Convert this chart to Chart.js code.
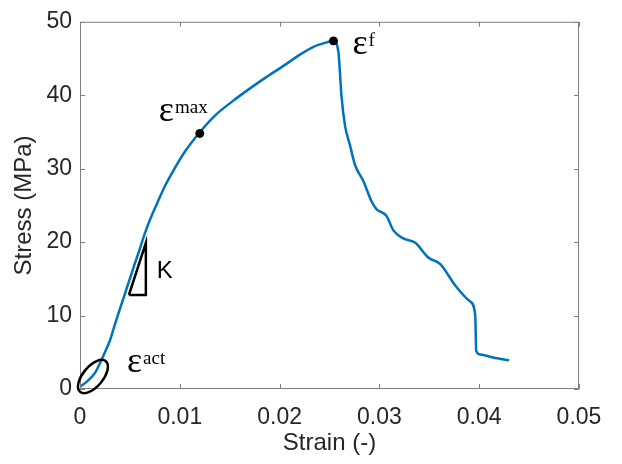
<!DOCTYPE html>
<html>
<head>
<meta charset="utf-8">
<script src="https://cdn.jsdelivr.net/npm/chart.js@4"></script>
<style>
  html, body { margin: 0; padding: 0; background: #fff; }
  #wrap { width: 622px; height: 464px; }
</style>
</head>
<body>
<div id="wrap"><canvas id="mainChart" width="622" height="464"></canvas></div>
<script>
// stress-strain curve
const strain = [0, 0.0005, 0.001, 0.0015, 0.002, 0.0025, 0.003, 0.0035, 0.004, 0.0048,
  0.0055, 0.006, 0.0065, 0.007, 0.0077, 0.0085, 0.0093, 0.0105, 0.0119, 0.0135,
  0.0153, 0.017, 0.0187, 0.0205, 0.022, 0.0234, 0.0247, 0.0254, 0.0259, 0.02605,
  0.0262, 0.02655, 0.02705, 0.02756, 0.0284, 0.0292, 0.0297, 0.0307, 0.0314, 0.0324,
  0.0336, 0.0349, 0.0361, 0.0376, 0.0391, 0.0396, 0.0397, 0.0401, 0.0414, 0.043];
const stress = [0.3, 0.8, 1.4, 2.2, 3.5, 5.0, 6.6, 8.8, 10.9, 14.2,
  17.1, 19.1, 21.2, 23.0, 25.2, 27.6, 29.6, 32.3, 34.8, 37.2,
  39.2, 40.9, 42.5, 44.1, 45.5, 46.6, 47.2, 47.4, 45.8, 43.0,
  39.9, 35.9, 33.2, 30.5, 28.3, 25.6, 24.5, 23.6, 21.6, 20.5,
  19.9, 17.9, 17.0, 14.1, 11.9, 10.1, 5.2, 4.7, 4.3, 3.9];

// marked points: eps_max and eps_f
const markStrain = [0.012, 0.0254];
const markStress = [34.8, 47.4];

// slope triangle K
const triStrain = [0.0049, 0.0066, 0.0066, 0.0049];
const triStress = [12.8, 12.8, 19.9, 12.8];

// ellipse round eps_act (centre in data units)
const actCentre = [0.0013, 1.7];

// epsilon labels: [superscript, strain, stress]
const epsLabels = [
  ['max', 0.0079, 36.5],
  ['f', 0.0273, 45.6],
  ['act', 0.0047, 2.3]
];
const kLabel = ['K', 0.0077, 15.1];

const xTicks = [0, 0.01, 0.02, 0.03, 0.04, 0.05];
const yTicks = [0, 10, 20, 30, 40, 50];

const AXIS_GREY = '#808080';
const TEXT_GREY = '#262626';
const BLUE = '#0072BD';

const zip = (xs, ys) => xs.map((x, i) => ({ x: x, y: ys[i] }));

// MATLAB style box with inward ticks on all four sides
const boxPlugin = {
  id: 'box',
  afterDatasetsDraw(chart) {
    const { ctx, chartArea: a, scales: { x, y } } = chart;
    const t = 5;
    ctx.save();
    ctx.strokeStyle = AXIS_GREY;
    ctx.lineWidth = 1;
    ctx.strokeRect(a.left + 0.5, a.top + 0.5, a.right - a.left - 1, a.bottom - a.top - 1);
    ctx.beginPath();
    xTicks.forEach(v => {
      const px = Math.round(x.getPixelForValue(v)) + 0.5;
      ctx.moveTo(px, a.bottom); ctx.lineTo(px, a.bottom - t);
      ctx.moveTo(px, a.top); ctx.lineTo(px, a.top + t);
    });
    yTicks.forEach(v => {
      const py = Math.round(y.getPixelForValue(v)) + 0.5;
      ctx.moveTo(a.left, py); ctx.lineTo(a.left + t, py);
      ctx.moveTo(a.right, py); ctx.lineTo(a.right - t, py);
    });
    ctx.stroke();
    ctx.restore();
  }
};

// ellipse + epsilon / K labels
const notesPlugin = {
  id: 'notes',
  afterDatasetsDraw(chart) {
    const { ctx, scales: { x, y } } = chart;
    ctx.save();
    // ellipse
    ctx.strokeStyle = '#000';
    ctx.lineWidth = 2.5;
    ctx.beginPath();
    ctx.ellipse(x.getPixelForValue(actCentre[0]), y.getPixelForValue(actCentre[1]),
      20, 10, -50 * Math.PI / 180, 0, Math.PI * 2);
    ctx.stroke();

    ctx.fillStyle = '#000';
    ctx.textBaseline = 'alphabetic';
    ctx.textAlign = 'left';
    epsLabels.forEach(([sup, sx, sy]) => {
      const px = x.getPixelForValue(sx);
      const py = y.getPixelForValue(sy);
      ctx.font = '36px "Liberation Serif", "Times New Roman", serif';
      ctx.fillText('ε', px, py);
      const w = ctx.measureText('ε').width;
      ctx.font = '19px "Liberation Serif", "Times New Roman", serif';
      ctx.fillText(sup, px + w + 1, py - 8);
    });
    ctx.font = '24px "Liberation Sans", Arial, sans-serif';
    ctx.fillText(kLabel[0], x.getPixelForValue(kLabel[1]), y.getPixelForValue(kLabel[2]));
    ctx.restore();
  }
};

new Chart(document.getElementById('mainChart').getContext('2d'), {
  type: 'scatter',
  data: {
    datasets: [
      {
        label: 'Stress',
        data: zip(strain, stress),
        showLine: true,
        borderColor: BLUE,
        borderWidth: 2.5,
        pointRadius: 0,
        cubicInterpolationMode: 'monotone',
        order: 3
      },
      {
        label: 'K',
        data: zip(triStrain, triStress),
        showLine: true,
        borderColor: '#000',
        borderWidth: 2.5,
        pointRadius: 0,
        tension: 0,
        order: 2
      },
      {
        label: 'marks',
        data: zip(markStrain, markStress),
        showLine: false,
        backgroundColor: '#000',
        borderColor: '#000',
        pointRadius: 4,
        order: 1
      }
    ]
  },
  plugins: [boxPlugin, notesPlugin],
  options: {
    responsive: false,
    animation: false,
    devicePixelRatio: 1,
    layout: { padding: { left: 0, right: 43, top: 14, bottom: 0 } },
    plugins: {
      legend: { display: false },
      tooltip: { enabled: false }
    },
    scales: {
      x: {
        type: 'linear',
        min: 0, max: 0.05,
        afterFit: s => { s.height = 75; },
        afterBuildTicks: s => { s.ticks = xTicks.map(v => ({ value: v })); },
        grid: { display: false, drawTicks: false },
        border: { display: false },
        ticks: {
          color: TEXT_GREY,
          padding: 15,
          maxRotation: 0,
          font: { family: '"Liberation Sans", Arial, sans-serif', size: 23 },
          callback: v => String(v)
        },
        title: {
          display: true,
          text: 'Strain (-)',
          color: TEXT_GREY,
          padding: { top: 0, bottom: 6 },
          font: { family: '"Liberation Sans", Arial, sans-serif', size: 24 }
        }
      },
      y: {
        type: 'linear',
        min: 0, max: 50,
        afterFit: s => { s.width = 80; },
        afterBuildTicks: s => { s.ticks = yTicks.map(v => ({ value: v })); },
        grid: { display: false, drawTicks: false },
        border: { display: false },
        ticks: {
          color: TEXT_GREY,
          padding: 8,
          font: { family: '"Liberation Sans", Arial, sans-serif', size: 23 },
          callback: v => String(v)
        },
        title: {
          display: true,
          text: 'Stress (MPa)',
          color: TEXT_GREY,
          padding: { top: 10, bottom: 0 },
          font: { family: '"Liberation Sans", Arial, sans-serif', size: 24 }
        }
      }
    }
  }
});
</script>
</body>
</html>
